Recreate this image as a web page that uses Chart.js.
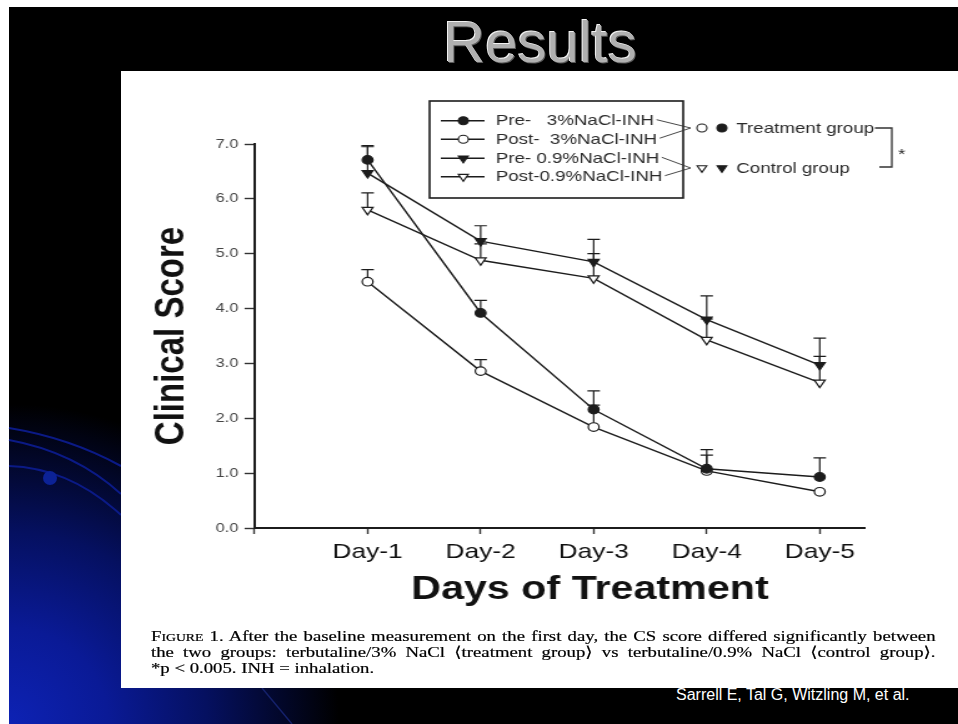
<!DOCTYPE html>
<html>
<head>
<meta charset="utf-8">
<title>Results</title>
<script src="https://cdn.jsdelivr.net/npm/chart.js@4.4.1/dist/chart.umd.min.js"></script>
<style>
  html, body { margin: 0; padding: 0; width: 958px; height: 724px; overflow: hidden; background: #fff; }
  #slide {
    position: absolute; left: 9px; top: 7px; width: 949px; height: 717px; overflow: hidden;
    background:
      radial-gradient(ellipse 330px 320px at 0px 717px, #0d22b4 0%, #0a1a96 30%, #051060 60%, rgba(0,0,0,0) 100%),
      #000;
  }
  #deco { position: absolute; left: 0; top: 0; }
  #heading {
    position: absolute; left: 0; top: 13px; width: 1080px; text-align: center;
    font: 58px/58px "Liberation Sans", Arial, sans-serif; color: #b0b0b0;
    text-shadow: -1px -1px 0 #f2f2f2, 1px 1px 0 #5a5a5a;
  }
  #credit {
    position: absolute; left: 676px; top: 686px;
    font: 16px/18px "Liberation Sans", Arial, sans-serif; color: #fff; white-space: nowrap;
  }
  #panel { position: absolute; left: 121px; top: 71px; width: 837px; height: 617px; background: #fff; overflow: hidden; }
  #fig { position: absolute; left: 0; top: 0; width: 670px; height: 617px; transform: scaleX(1.2493); transform-origin: 0 0; }
  #chart { position: absolute; left: 0; top: 0; width: 670px; height: 549px; }
  #caption {
    position: absolute; left: 24px; top: 557px; width: 628px;
    font: 15px/16px "Liberation Serif", "DejaVu Serif", serif; color: #000;
    -webkit-text-stroke: 0.2px #000;
  }
  #caption div { text-align: justify; text-align-last: justify; white-space: nowrap; }
  #caption div.last { text-align-last: left; }
  .sc { font-variant: small-caps; }
</style>
</head>
<body>
<div id="slide"></div>
<svg id="deco" width="958" height="724">
  <path d="M9 428 Q70 438 121 466" stroke="#0b1a86" stroke-width="2" fill="none"/>
  <path d="M9 440 Q75 452 121 494" stroke="#0b1a86" stroke-width="2" fill="none"/>
  <path d="M9 466 Q70 468 121 515" stroke="#0b1a86" stroke-width="2" fill="none"/>
  <circle cx="50" cy="478" r="7" fill="#0c2296"/>
  <path d="M262 688 L292 724" stroke="#14206a" stroke-width="1.5" fill="none"/>
</svg>
<div id="heading">Results</div>
<div id="credit">Sarrell E, Tal G, Witzling M, et al.</div>
<div id="panel">
  <div id="fig">
    <canvas id="chart" width="670" height="549"></canvas>
    <div id="caption">
      <div><span class="sc">Figure</span> 1. After the baseline measurement on the first day, the CS score differed significantly between</div>
      <div>the two groups: terbutaline/3% NaCl ⟨treatment group⟩ vs terbutaline/0.9% NaCl ⟨control group⟩.</div>
      <div class="last">*p &lt; 0.005. INH = inhalation.</div>
    </div>
  </div>
</div>

<script>
// Treatment days on the horizontal axis
const days = ['Day-1', 'Day-2', 'Day-3', 'Day-4', 'Day-5'];

// Mean clinical score per day
const pre3 = [6.71, 3.92, 2.16, 1.08, 0.93];
const post3 = [4.49, 2.86, 1.84, 1.04, 0.66];
const pre09 = [6.47, 5.23, 4.85, 3.80, 2.97];
const post09 = [5.80, 4.88, 4.55, 3.43, 2.65];

// Upper error (SD) per day
const pre3Err = [0.26, 0.23, 0.34, 0.35, 0.35];
const post3Err = [0.22, 0.21, 0.40, 0.29, 0.00];
const pre09Err = [0.48, 0.28, 0.41, 0.43, 0.49];
const post09Err = [0.31, 0.30, 0.45, 0.38, 0.48];

// Series names, tick labels and axis titles
const seriesLabels = ['Pre-   3%NaCl-INH', 'Post-  3%NaCl-INH', 'Pre- 0.9%NaCl-INH', 'Post-0.9%NaCl-INH'];
const yTickLabels = ['0.0', '1.0', '2.0', '3.0', '4.0', '5.0', '6.0', '7.0'];
const groupLabels = ['Treatment group', 'Control group'];
const xTitle = 'Days of Treatment';
const yTitle = 'Clinical Score';

const INK = '#1c1c1c';
const FONT = '"Liberation Sans", Arial, Helvetica, sans-serif';

function toPoints(values) {
  return values.map((v, i) => ({ x: i + 1, y: v }));
}

function series(label, values, errors, style, filled) {
  return {
    label: label,
    data: toPoints(values),
    errors: errors,
    borderColor: INK,
    borderWidth: 1.4,
    pointStyle: style,
    pointRotation: style === 'triangle' ? 180 : 0,
    pointRadius: style === 'triangle' ? 5 : 4.3,
    pointBorderWidth: 1.2,
    pointBorderColor: INK,
    pointBackgroundColor: filled ? INK : '#ffffff',
    fill: false,
    tension: 0
  };
}

// Vertical error bars with a cap, drawn under the markers
const errorBars = {
  id: 'errorBars',
  beforeDatasetsDraw(chart) {
    const { ctx } = chart;
    const xs = chart.scales.x, ys = chart.scales.y;
    ctx.save();
    ctx.strokeStyle = INK;
    ctx.lineWidth = 1.2;
    chart.data.datasets.forEach(ds => {
      ds.data.forEach((p, i) => {
        const e = ds.errors[i];
        if (!e) return;
        const px = xs.getPixelForValue(p.x);
        const y0 = ys.getPixelForValue(p.y);
        const y1 = ys.getPixelForValue(p.y + e);
        ctx.beginPath();
        ctx.moveTo(px, y0);
        ctx.lineTo(px, y1);
        ctx.moveTo(px - 5, y1);
        ctx.lineTo(px + 5, y1);
        ctx.stroke();
      });
    });
    ctx.restore();
  }
};

// Horizontal axis title, centred under the middle day
const xAxisTitle = {
  id: 'xAxisTitle',
  afterDraw(chart) {
    const { ctx } = chart;
    const xs = chart.scales.x;
    ctx.save();
    ctx.fillStyle = '#111';
    ctx.font = 'bold 33px ' + FONT;
    ctx.textAlign = 'center';
    ctx.textBaseline = 'middle';
    ctx.fillText(xTitle, xs.getPixelForValue(3) - 3, xs.bottom - 30);
    ctx.restore();
  }
};

function marker(ctx, style, filled, x, y, r) {
  ctx.beginPath();
  if (style === 'circle') {
    ctx.arc(x, y, r, 0, Math.PI * 2);
  } else {
    ctx.moveTo(x - r * 0.87, y - r * 0.5);
    ctx.lineTo(x + r * 0.87, y - r * 0.5);
    ctx.lineTo(x, y + r);
    ctx.closePath();
  }
  ctx.fillStyle = filled ? INK : '#ffffff';
  ctx.fill();
  ctx.lineWidth = 1.1;
  ctx.strokeStyle = INK;
  ctx.stroke();
}

// Boxed key plus the group bracket with its significance mark
const keyBox = {
  id: 'keyBox',
  afterDraw(chart) {
    const { ctx } = chart;
    const box = { x: 247, y: 30, w: 203, h: 97 };
    const rows = [49.7, 68.2, 87.3, 105.7];
    const groupY = [57, 97];
    const joinX = 456;
    ctx.save();
    ctx.strokeStyle = INK;
    ctx.lineWidth = 1.6;
    ctx.strokeRect(box.x, box.y, box.w, box.h);

    ctx.font = '15px ' + FONT;
    ctx.textBaseline = 'middle';
    ctx.textAlign = 'left';
    chart.data.datasets.forEach((ds, i) => {
      const y = rows[i];
      ctx.strokeStyle = INK;
      ctx.lineWidth = 1.4;
      ctx.beginPath();
      ctx.moveTo(256, y);
      ctx.lineTo(291, y);
      ctx.stroke();
      marker(ctx, ds.pointStyle, ds.pointBackgroundColor === INK, 274, y, ds.pointStyle === 'circle' ? 4 : 4.6);
      ctx.fillStyle = '#2a2a2a';
      ctx.fillText(ds.label, 300, y + 0.5);
      const end = 300 + ctx.measureText(ds.label).width + 2;
      ctx.strokeStyle = '#333';
      ctx.lineWidth = 0.9;
      ctx.beginPath();
      ctx.moveTo(end, y - 1);
      ctx.lineTo(joinX, groupY[i < 2 ? 0 : 1]);
      ctx.stroke();
    });

    // group markers and names
    const styles = ['circle', 'triangle'];
    groupLabels.forEach((g, k) => {
      const y = groupY[k];
      marker(ctx, styles[k], false, 465, y, k === 0 ? 4 : 4.4);
      marker(ctx, styles[k], true, 481, y, k === 0 ? 4 : 4.4);
      ctx.fillStyle = '#2a2a2a';
      ctx.font = '15px ' + FONT;
      ctx.fillText(g, 492.5, y + 0.5);
    });

    // bracket joining the two groups
    ctx.strokeStyle = '#333';
    ctx.lineWidth = 1.3;
    ctx.beginPath();
    ctx.moveTo(603.5, groupY[0]);
    ctx.lineTo(617, groupY[0]);
    ctx.lineTo(617, groupY[1] - 1);
    ctx.lineTo(607, groupY[1] - 1);
    ctx.stroke();
    ctx.fillStyle = '#2a2a2a';
    ctx.font = '15px ' + FONT;
    ctx.fillText('*', 622, 84);
    ctx.restore();
  }
};

new Chart(document.getElementById('chart'), {
  type: 'line',
  data: {
    datasets: [
      series(seriesLabels[0], pre3, pre3Err, 'circle', true),
      series(seriesLabels[1], post3, post3Err, 'circle', false),
      series(seriesLabels[2], pre09, pre09Err, 'triangle', true),
      series(seriesLabels[3], post09, post09Err, 'triangle', false)
    ]
  },
  options: {
    responsive: false,
    animation: false,
    events: [],
    layout: { padding: { left: 0, top: 73, right: 74.5, bottom: 0 } },
    plugins: { legend: { display: false }, tooltip: { enabled: false } },
    scales: {
      x: {
        type: 'linear',
        min: 0,
        max: 5.4,
        afterFit(scale) { scale.height = 92; },
        border: { display: true, color: INK, width: 2 },
        grid: { drawOnChartArea: false, drawTicks: true, tickLength: 6, tickColor: '#333', tickWidth: 1.4 },
        ticks: {
          stepSize: 1,
          includeBounds: false,
          autoSkip: false,
          maxRotation: 0,
          padding: 6,
          color: '#111',
          font: { family: FONT, size: 21 },
          callback: (v) => (v >= 1 && v <= days.length ? days[v - 1] : '')
        },
        title: { display: false }
      },
      y: {
        type: 'linear',
        min: 0,
        max: 7,
        afterFit(scale) { scale.width = 106.9; },
        border: { display: true, color: INK, width: 2 },
        grid: { drawOnChartArea: false, drawTicks: true, tickLength: 8, tickColor: '#333', tickWidth: 1.4 },
        ticks: {
          stepSize: 1,
          padding: 5,
          color: '#444',
          font: { family: FONT, size: 13 },
          callback: (v, i) => yTickLabels[i]
        },
        title: {
          display: true,
          text: yTitle,
          color: '#111',
          font: { family: FONT, size: 33, weight: 'bold' },
          padding: { top: 21, bottom: 0 }
        }
      }
    }
  },
  plugins: [errorBars, xAxisTitle, keyBox]
});
</script>
</body>
</html>
